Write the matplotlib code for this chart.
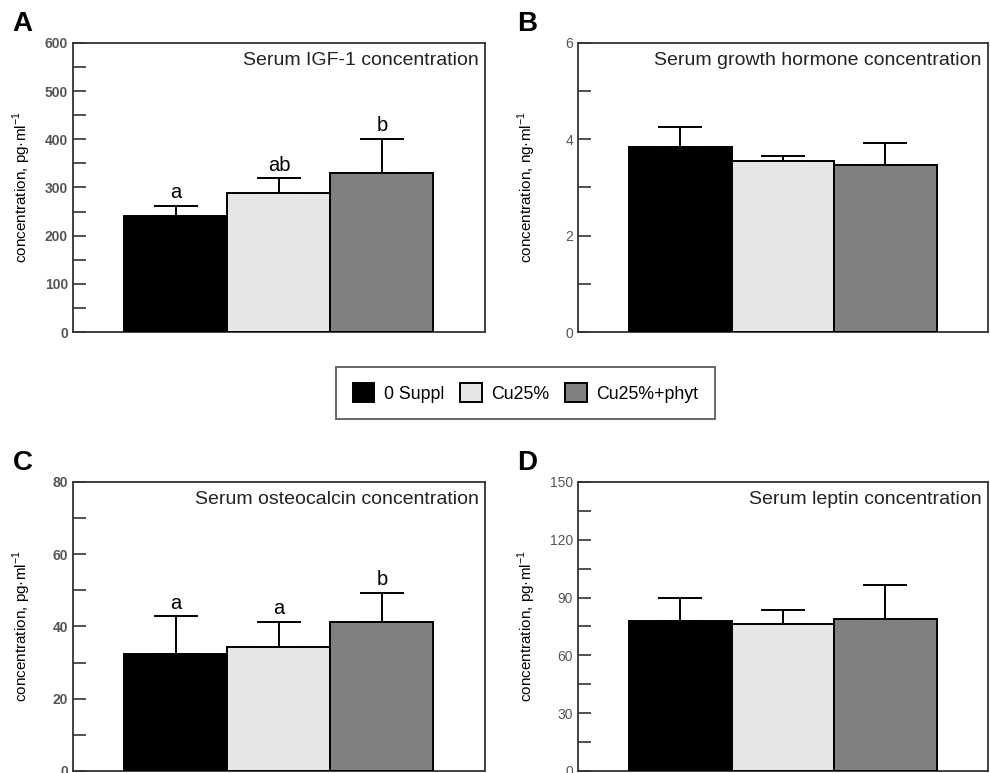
import matplotlib.pyplot as plt
from matplotlib.patches import Patch
from matplotlib.ticker import MultipleLocator

groups = ['0 Suppl', 'Cu25%', 'Cu25%+phyt']
colors = ['#000000', '#e6e6e6', '#808080']

# panel data
igf_mean = [241, 289, 329]
igf_err = [21, 30, 72]
igf_letters = ['a', 'ab', 'b']

gh_mean = [3.83, 3.54, 3.46]
gh_err = [0.43, 0.11, 0.47]

oc_mean = [32.3, 34.3, 41.3]
oc_err = [10.5, 7.0, 8.0]
oc_letters = ['a', 'a', 'b']

lep_mean = [77.9, 76.3, 78.7]
lep_err = [12.1, 7.4, 18.0]

panels = [
    ('A', 'Serum IGF-1 concentration', igf_mean, igf_err, igf_letters, 600, 100, 'pg', 'bold'),
    ('B', 'Serum growth hormone concentration', gh_mean, gh_err, None, 6, 2, 'ng', 'normal'),
    ('C', 'Serum osteocalcin concentration', oc_mean, oc_err, oc_letters, 80, 20, 'pg', 'bold'),
    ('D', 'Serum leptin concentration', lep_mean, lep_err, None, 150, 30, 'pg', 'normal'),
]

pos = {'A': [0.0737, 0.5705, 0.416, 0.374],
       'B': [0.5838, 0.5705, 0.414, 0.374],
       'C': [0.0737, 0.0026, 0.416, 0.374],
       'D': [0.5838, 0.0026, 0.414, 0.374]}

fig = plt.figure(figsize=(9.9, 7.73), dpi=100)
plt.rcParams['font.family'] = ['Liberation Sans', 'DejaVu Sans']

for lab, title, mean, err, letters, ymax, step, unit, tw in panels:
    ax = fig.add_axes(pos[lab])
    x = [0, 1, 2]
    ax.bar(x, mean, width=1.0, color=colors, edgecolor='black', linewidth=1.4, zorder=3)
    ax.errorbar(x, mean, yerr=[[0, 0, 0], err], fmt='none', ecolor='black',
                elinewidth=1.4, capsize=15.5, capthick=1.4, zorder=2)
    ax.set_xlim(-1, 3)
    ax.set_ylim(0, ymax)
    ax.yaxis.set_major_locator(MultipleLocator(step))
    ax.yaxis.set_minor_locator(MultipleLocator(step / 2))
    ax.set_xticks([])
    ax.tick_params(axis='y', which='both', direction='in', width=1.2, colors='#333333',
                   labelcolor='#555555', labelsize=10, length=9)
    for lbl in ax.get_yticklabels():
        lbl.set_fontweight(tw)
    for s in ax.spines.values():
        s.set_linewidth(1.3)
        s.set_color('#333333')
    ax.set_ylabel('concentration, %s·ml$^{\\mathregular{-1}}$' % unit, fontsize=11)
    ax.yaxis.set_label_coords(-0.097, 0.5)
    ax.text(0.985, 0.94, title, transform=ax.transAxes, ha='right', va='center',
            fontsize=14, color='#222222')
    if letters:
        for xi, m, e, t in zip(x, mean, err, letters):
            ax.text(xi, m + e + ymax * 0.012, t, ha='center', va='bottom', fontsize=14.5)
    fig.text(pos[lab][0] - 0.061, pos[lab][1] + pos[lab][3] + 0.025, lab,
             fontsize=20, fontweight='bold', ha='left', va='center')

handles = [Patch(facecolor=c, edgecolor='black', linewidth=1.4) for c in colors]
leg = fig.legend(handles, groups, loc='center', bbox_to_anchor=(0.531, 0.4916),
                 ncol=3, frameon=True, fancybox=False, fontsize=12.8,
                 handlelength=1.2, handleheight=1.2, columnspacing=0.9,
                 borderpad=0.95, handletextpad=0.55, borderaxespad=0)
leg.get_frame().set_edgecolor('#333333')
leg.get_frame().set_linewidth(1.3)

fig.savefig('out.png', dpi=100)
